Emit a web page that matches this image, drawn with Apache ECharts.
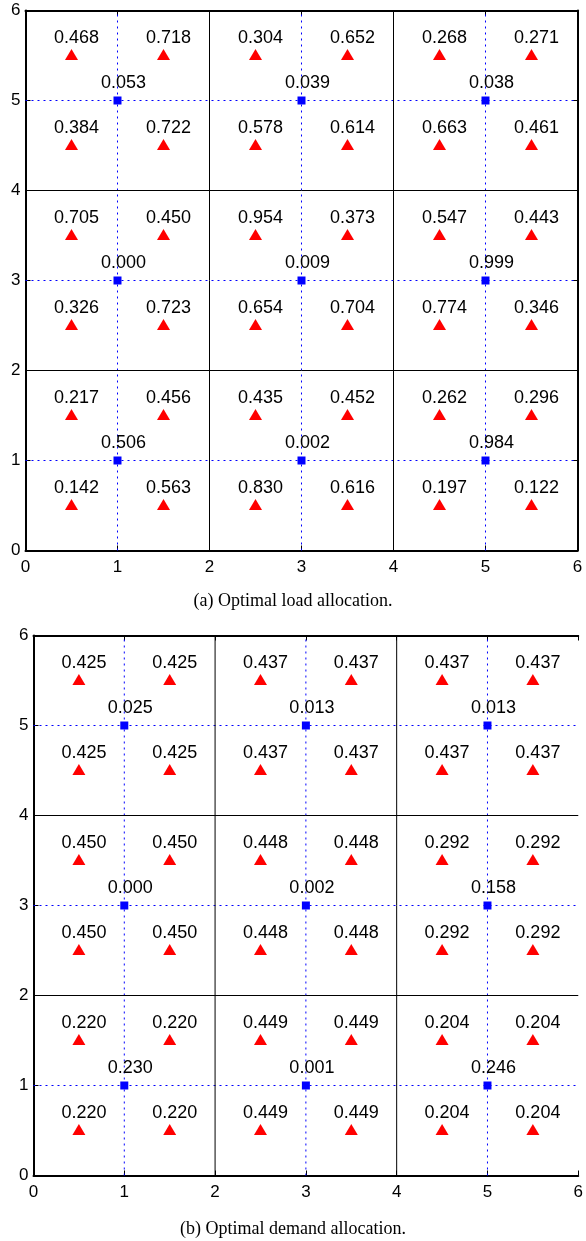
<!DOCTYPE html>
<html><head><meta charset="utf-8">
<script src="https://cdn.jsdelivr.net/npm/echarts@6/dist/echarts.min.js"></script>
<style>html,body{margin:0;padding:0;background:#fff}#c{width:586px;height:1241px}</style>
</head><body><div id="c"></div>
<script>
// ---- data ----
const axisTicks = [0, 1, 2, 3, 4, 5, 6];
const triX = [0.5, 1.5, 2.5, 3.5, 4.5, 5.5];
const triY = [5.5, 4.5, 3.5, 2.5, 1.5, 0.5];
const sqX = [1, 3, 5];
const sqY = [5, 3, 1];
const blockLines = [2, 4];
const dotLines = [1, 3, 5];

// (a) optimal load allocation: rows from top (y=5.5) to bottom (y=0.5)
const loadTri = [
  [0.468, 0.718, 0.304, 0.652, 0.268, 0.271],
  [0.384, 0.722, 0.578, 0.614, 0.663, 0.461],
  [0.705, 0.450, 0.954, 0.373, 0.547, 0.443],
  [0.326, 0.723, 0.654, 0.704, 0.774, 0.346],
  [0.217, 0.456, 0.435, 0.452, 0.262, 0.296],
  [0.142, 0.563, 0.830, 0.616, 0.197, 0.122]
];
const loadSq = [
  [0.053, 0.039, 0.038],
  [0.000, 0.009, 0.999],
  [0.506, 0.002, 0.984]
];
// (b) optimal demand allocation
const demandTri = [
  [0.425, 0.425, 0.437, 0.437, 0.437, 0.437],
  [0.425, 0.425, 0.437, 0.437, 0.437, 0.437],
  [0.450, 0.450, 0.448, 0.448, 0.292, 0.292],
  [0.450, 0.450, 0.448, 0.448, 0.292, 0.292],
  [0.220, 0.220, 0.449, 0.449, 0.204, 0.204],
  [0.220, 0.220, 0.449, 0.449, 0.204, 0.204]
];
const demandSq = [
  [0.025, 0.013, 0.013],
  [0.000, 0.002, 0.158],
  [0.230, 0.001, 0.246]
];
const captions = ['(a) Optimal load allocation.', '(b) Optimal demand allocation.'];

// ---- build ----
const SANS = 'Liberation Sans, Arial, Helvetica, sans-serif';
const SERIF = 'Liberation Serif, Times New Roman, serif';

function pts(xs, ys, vals) {
  const out = [];
  ys.forEach((y, r) => xs.forEach((x, c) => out.push([x, y, vals[r][c]])));
  return out;
}

const grids = [
  { left: 25.5, top: 10.5, width: 552, height: 540 },
  { left: 33.5, top: 635.5, width: 552, height: 540 }
];
// the right frame edge of (b) lies just outside the picture
const showRightFrame = [true, false];

const xAxes = [], yAxes = [], series = [];
const tickMin = axisTicks[0], tickMax = axisTicks[axisTicks.length - 1];

function labelCfg(off) {
  return { show: true, position: 'inside', offset: off, fontSize: 18, color: '#000',
    textBorderWidth: 0, textBorderColor: 'transparent', textShadowBlur: 0,
    fontFamily: SANS, formatter: p => p.value[2].toFixed(3) };
}

function guide(xi, yi, data, style) {
  return {
    type: 'line', xAxisIndex: xi, yAxisIndex: yi, data: data, z: 1, silent: true,
    symbol: 'none', showSymbol: false, animation: false, clip: false,
    lineStyle: style, emphasis: { disabled: true }
  };
}

grids.forEach((g, gi) => {
  const base = {
    gridIndex: gi, type: 'value', min: tickMin, max: tickMax, interval: 1,
    axisLine: { show: true, onZero: false, lineStyle: { color: '#000', width: 2 } },
    axisTick: { show: true, inside: true, length: 5, lineStyle: { color: '#000', width: 1 } },
    splitLine: { show: false }
  };
  xAxes.push(Object.assign({}, base, { position: 'bottom',
    axisLabel: { show: true, margin: 8, fontSize: 17, color: '#000', fontFamily: SANS } }));
  xAxes.push(Object.assign({}, base, { position: 'top', axisLabel: { show: false } }));
  yAxes.push(Object.assign({}, base, { position: 'left',
    axisLabel: { show: true, margin: 5, fontSize: 17, color: '#000', fontFamily: SANS } }));
  yAxes.push(Object.assign({}, base, { position: 'right', axisLabel: { show: false },
    axisLine: { show: showRightFrame[gi], onZero: false, lineStyle: { color: '#000', width: 2 } },
    axisTick: { show: showRightFrame[gi], inside: true, length: 5, lineStyle: { color: '#000', width: 1 } } }));

  const xi = gi * 2, yi = gi * 2;
  const tri = gi === 0 ? loadTri : demandTri;
  const sq = gi === 0 ? loadSq : demandSq;

  const dotStyle = { color: '#0000ff', width: 1, type: [2, 4], opacity: 1 };
  const blkStyle = { color: '#000000', width: 1, type: 'solid', opacity: 1 };
  dotLines.forEach(v => {
    series.push(guide(xi, yi, [[v, tickMin], [v, tickMax]], dotStyle));
    series.push(guide(xi, yi, [[tickMin, v], [tickMax, v]], dotStyle));
  });
  blockLines.forEach(v => {
    series.push(guide(xi, yi, [[v, tickMin], [v, tickMax]], blkStyle));
    series.push(guide(xi, yi, [[tickMin, v], [tickMax, v]], blkStyle));
  });

  series.push({
    type: 'scatter', xAxisIndex: xi, yAxisIndex: yi, z: 3, animation: false,
    symbol: 'triangle', symbolSize: [13, 11], symbolOffset: [0, -1],
    itemStyle: { color: '#ff0000', opacity: 1 },
    label: labelCfg([5, -16]),
    data: pts(triX, triY, tri)
  });
  series.push({
    type: 'scatter', xAxisIndex: xi, yAxisIndex: yi, z: 3, animation: false,
    symbol: 'rect', symbolSize: 8,
    itemStyle: { color: '#0000ff', opacity: 1 },
    label: labelCfg([6, -17]),
    data: pts(sqX, sqY, sq)
  });
});

const chart = echarts.init(document.getElementById('c'), null, { renderer: 'canvas' });
chart.setOption({
  backgroundColor: '#fff',
  animation: false,
  title: [
    { text: captions[0], left: 'center', top: 587, textStyle: { fontFamily: SERIF, fontSize: 18, fontWeight: 'normal', color: '#000' } },
    { text: captions[1], left: 'center', top: 1215, textStyle: { fontFamily: SERIF, fontSize: 18, fontWeight: 'normal', color: '#000' } }
  ],
  grid: grids,
  xAxis: xAxes,
  yAxis: yAxes,
  series: series
});
</script></body></html>
